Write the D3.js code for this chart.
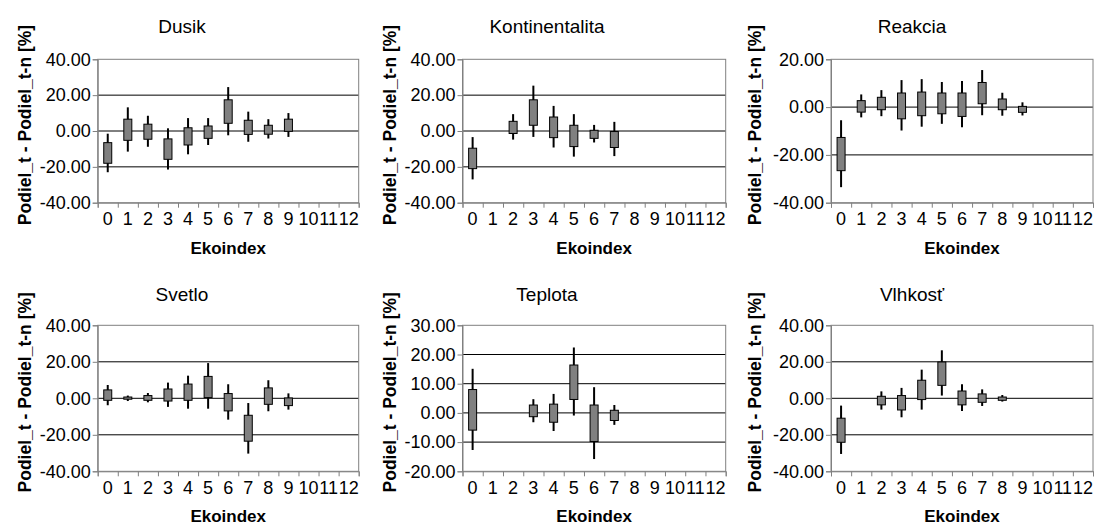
<!DOCTYPE html>
<html>
<head>
<meta charset="utf-8">
<script src="https://cdn.jsdelivr.net/npm/d3@7"></script>
<style>
  body { margin: 0; background: #fff; }
  svg { display: block; font-family: "Liberation Sans", Arial, sans-serif; }
</style>
</head>
<body>
<svg id="chart"></svg>
<script>
// Ekoindex categories on the x axis
const categories = ["0", "1", "2", "3", "4", "5", "6", "7", "8", "9", "10", "11", "12"];

// each entry: [low, box bottom, box top, high], null where there is no mark
const dusik = [
    [-23, -18, -6.5, -1.5], [-11.5, -5.2, 6.6, 13.2], [-8.8, -4.6, 3.8, 8.5],
    [-21.5, -15.8, -4.4, 1.5], [-13, -7.8, 1.8, 7.2], [-7.8, -4.1, 2.8, 7.2],
    [-2.4, 4.3, 17.4, 24.5], [-6, -1.9, 6, 10.8], [-4.2, -1.8, 3.2, 6.6],
    [-3.3, -0.2, 6.6, 10], null, null, null
];
const kontinentalita = [
    [-27, -21, -9.6, -3.4], null, [-4.8, -1.4, 5.4, 9.4],
    [-3.3, 3.2, 17.4, 25.3], [-9.2, -3.7, 7.8, 14], [-14.3, -8.7, 3.2, 9.4],
    [-6.4, -4.1, 0.4, 3.4], [-14, -9.2, -0.3, 5.1], null, null, null, null, null
];
const reakcia = [
    [-33.5, -26.6, -12.7, -5.5], [-4.3, -2.1, 2.7, 5.3], [-3.8, -1.1, 4.1, 7.1],
    [-9.8, -4.9, 5.9, 11.3], [-8.2, -3.6, 6.3, 11.7], [-7, -2.8, 5.9, 10.5],
    [-8.4, -3.9, 5.9, 10.9], [-3.4, 1.4, 10.3, 15.5], [-3.6, -1.1, 3.4, 6],
    [-3.5, -2.2, 0.3, 2], null, null, null
];
const svetlo = [
    [-3.8, -1.1, 4.6, 7.3], [-1.5, -0.5, 0.7, 1.5], [-2.2, -1.1, 1.5, 2.9],
    [-4.7, -1.5, 5.1, 8.6], [-5.7, -1.1, 7.8, 12.4], [-5.7, 0.4, 12, 19.3],
    [-11.7, -6.9, 2.6, 7.7], [-30.3, -23.5, -9.3, -2.6], [-7.1, -3.3, 5.7, 9.9],
    [-6.2, -4, 0.2, 2.7], null, null, null
];
const teplota = [
    [-12.7, -5.9, 8, 15.1], null, null, [-3.2, -1.3, 2.7, 4.7],
    [-6.2, -3.2, 3, 6.5], [-0.9, 4.6, 16.4, 22.4], [-15.8, -9.8, 2.7, 8.8],
    [-4.1, -2.6, 0.9, 2.7], null, null, null, null, null
];
const vlhkost = [
    [-30.5, -24.1, -10.9, -4], null, [-6.2, -3.6, 1.1, 3.8],
    [-10.4, -6.4, 1.5, 5.7], [-6.2, -0.7, 9.9, 15.7], [1.5, 7.1, 19.9, 26.3],
    [-6.9, -3.6, 4, 7.7], [-4.2, -2.2, 2.4, 4.9], [-1.8, -1.1, 0.7, 1.8],
    null, null, null, null
];

// y tick values per panel
const ticks40 = [-40, -20, 0, 20, 40];
const ticksReakcia = [-40, -20, 0, 20];
const ticksTeplota = [-20, -10, 0, 10, 20, 30];

const titles = ["Dusik", "Kontinentalita", "Reakcia", "Svetlo", "Teplota", "Vlhkosť"];

const panels = [
    { title: titles[0], data: dusik, ticks: ticks40 },
    { title: titles[1], data: kontinentalita, ticks: ticks40 },
    { title: titles[2], data: reakcia, ticks: ticksReakcia },
    { title: titles[3], data: svetlo, ticks: ticks40 },
    { title: titles[4], data: teplota, ticks: ticksTeplota },
    { title: titles[5], data: vlhkost, ticks: ticks40 }
];

// layout of the 3x2 grid
const colLeft = [97.7, 462.5, 831];
const colRight = [358.7, 725.7, 1093];
const rowTop = [59.3, 325.3];
const rowBottom = [202.7, 471.3];
const titleY = [26, 294];

const svg = d3.select("#chart").attr("width", 1094).attr("height", 525);

panels.forEach((p, i) => {
    const col = i % 3, row = Math.floor(i / 3);
    const x0 = colLeft[col], x1 = colRight[col];
    const y0 = rowTop[row], y1 = rowBottom[row];

    const x = d3.scaleBand().domain(categories).range([x0, x1]);
    const y = d3.scaleLinear().domain(d3.extent(p.ticks)).range([y1, y0]);
    const g = svg.append("g");

    // gridlines
    g.selectAll(".grid")
        .data(p.ticks.slice(1, -1))
        .join("line")
        .attr("x1", x0).attr("x2", x1)
        .attr("y1", d => y(d)).attr("y2", d => y(d))
        .attr("stroke", "#000");

    // plot frame
    g.append("rect")
        .attr("x", x0).attr("y", y0)
        .attr("width", x1 - x0).attr("height", y1 - y0)
        .attr("fill", "none")
        .attr("stroke", "#808080");

    // y axis
    const ya = g.append("g")
        .attr("transform", `translate(${x0},0)`)
        .call(d3.axisLeft(y).tickValues(p.ticks).tickFormat(d => d.toFixed(2)).tickSize(5).tickPadding(2));
    ya.select(".domain").attr("stroke", "#808080");
    ya.selectAll(".tick line").attr("stroke", "#808080");
    ya.selectAll(".tick text").attr("font-size", 18).attr("fill", "#000").attr("font-family", null);

    // x axis: tick marks on the band edges, labels in the bands
    const edges = d3.scaleLinear().domain([0, categories.length]).range([x0, x1]);
    const xt = g.append("g")
        .attr("transform", `translate(0,${y1})`)
        .call(d3.axisBottom(edges).tickValues(d3.range(categories.length + 1)).tickFormat("").tickSize(5));
    xt.select(".domain").attr("stroke", "#808080");
    xt.selectAll(".tick line").attr("stroke", "#808080");

    const xl = g.append("g")
        .attr("transform", `translate(0,${y1})`)
        .call(d3.axisBottom(x).tickSize(0).tickPadding(10));
    xl.select(".domain").remove();
    xl.selectAll(".tick text").attr("font-size", 18).attr("fill", "#000").attr("font-family", null);

    // hi-lo whiskers
    const marks = p.data.map((d, k) => d && { cat: categories[k], v: d }).filter(Boolean);
    const cx = d => x(d.cat) + x.bandwidth() / 2;
    g.selectAll(".whisker")
        .data(marks)
        .join("line")
        .attr("x1", cx).attr("x2", cx)
        .attr("y1", d => y(d.v[3])).attr("y2", d => y(d.v[0]))
        .attr("stroke", "#000")
        .attr("stroke-width", 2);

    // boxes
    const bw = 8;
    g.selectAll(".box")
        .data(marks)
        .join("rect")
        .attr("x", d => cx(d) - bw / 2)
        .attr("width", bw)
        .attr("y", d => y(d.v[2]))
        .attr("height", d => y(d.v[1]) - y(d.v[2]))
        .attr("fill", "#808080")
        .attr("stroke", "#000")
        .attr("stroke-width", 1);

    // titles
    g.append("text")
        .attr("x", col * 365 + 182)
        .attr("y", titleY[row])
        .attr("text-anchor", "middle")
        .attr("dominant-baseline", "central")
        .attr("font-size", 19)
        .text(p.title);

    g.append("text")
        .attr("x", (x0 + x1) / 2)
        .attr("y", y1 + 45.5)
        .attr("text-anchor", "middle")
        .attr("dominant-baseline", "central")
        .attr("font-size", 17)
        .attr("font-weight", "bold")
        .text("Ekoindex");

    g.append("text")
        .attr("transform", `translate(${col * 365 + 25 + (col === 2 ? 0 : 0)},${(y0 + y1) / 2 - 6}) rotate(-90)`)
        .attr("text-anchor", "middle")
        .attr("dominant-baseline", "central")
        .attr("font-size", 17.5)
        .attr("font-weight", "bold")
        .text("Podiel_t - Podiel_t-n [%]");
});
</script>
</body>
</html>
